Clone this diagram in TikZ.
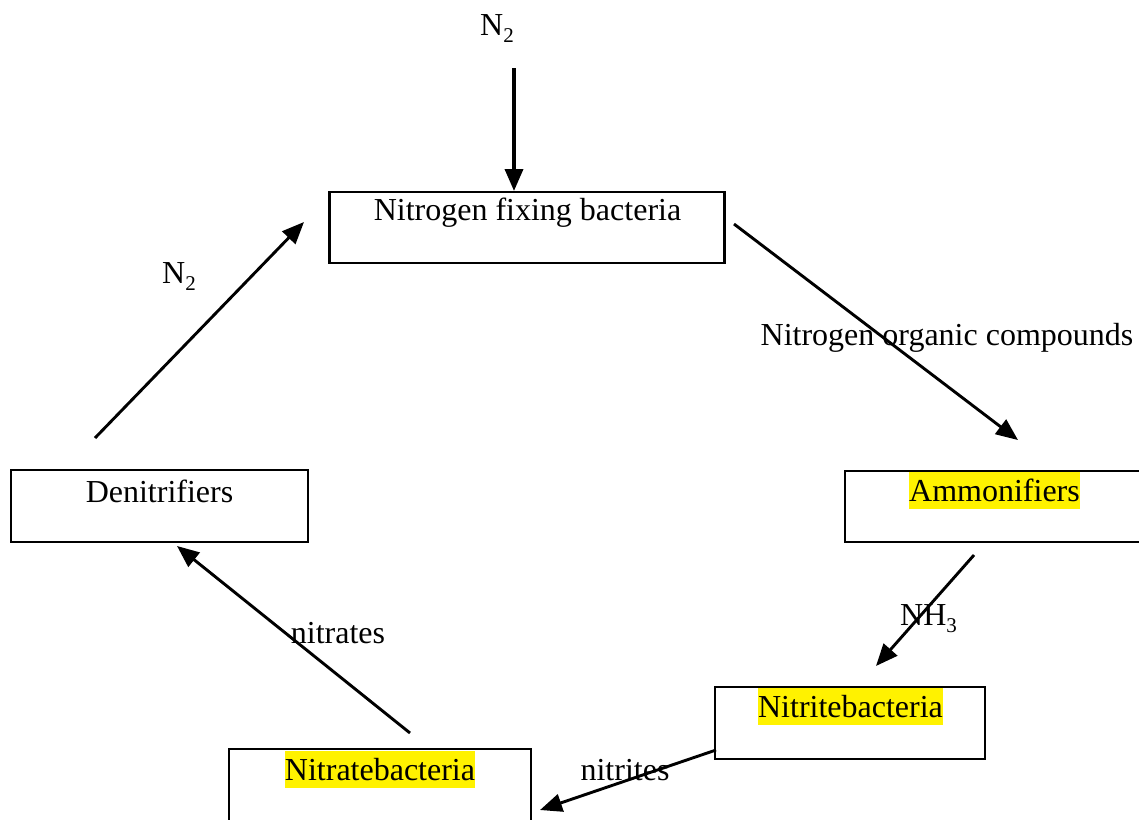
\documentclass[tikz,border=0pt]{standalone}
\usepackage{fontspec}
\setmainfont{Liberation Serif}
\usetikzlibrary{arrows.meta}
\newcommand{\subtwo}[1]{\raisebox{-7pt}{\fontsize{21}{21}\selectfont #1}}
\tikzset{
  box/.style={draw, line width=2.4pt, rectangle, inner sep=0pt},
  lbl/.style={anchor=base, inner sep=0pt, font=\fontsize{32}{38}\selectfont},
  hl/.style={lbl, fill=yellow, text height=29pt, text depth=8pt},
  ar/.style={-{Triangle[length=22pt,width=18pt]}, line width=2.9pt}
}
\begin{document}
\begin{tikzpicture}[x=1pt,y=-1pt]
\useasboundingbox (0,0) rectangle (1139,819);
% boxes
\node[box, minimum width=395pt, minimum height=71pt] (nfb) at (527,227.5) {};
\node[box, minimum width=297pt, minimum height=72pt] (den) at (159.5,506) {};
\node[box, minimum width=300pt, minimum height=71pt] (amm) at (995,506.5) {};
\node[box, minimum width=270pt, minimum height=72pt] (nii) at (850,723) {};
\node[box, minimum width=302pt, minimum height=110pt] (nat) at (380,804) {};
% box texts
\node[lbl] (tnfb) at (527.5,220) {Nitrogen fixing bacteria};
\node[lbl] (tden) at (159.5,502) {Denitrifiers};
\node[hl] (tamm) at (994.5,501) {Ammonifiers};
\node[hl] (tnii) at (850.5,717) {Nitritebacteria};
\node[hl] (tnat) at (380,780) {Nitratebacteria};
% edge labels
\node[lbl] (n2top) at (497,35) {N\subtwo{2}};
\node[lbl] (n2left) at (179,283) {N\subtwo{2}};
\node[lbl] (noc) at (947,345) {Nitrogen organic compounds};
\node[lbl] (nh3) at (928.5,625) {NH\subtwo{3}};
\node[lbl] (nites) at (625,780) {nitrites};
\node[lbl] (nates) at (338,643) {nitrates};
% connector end points
\coordinate (a1) at (514,68);  \coordinate (a2) at (514,191);
\coordinate (b1) at (734,224); \coordinate (b2) at (1018,440);
\coordinate (c1) at (974,555); \coordinate (c2) at (876,666);
\coordinate (d1) at (716,750); \coordinate (d2) at (540,810);
\coordinate (e1) at (410,733); \coordinate (e2) at (177,546);
\coordinate (f1) at (95,438);  \coordinate (f2) at (304,222);
\draw[ar, line width=3.6pt] (a1) -- (a2);
\draw[ar] (b1) -- (b2);
\draw[ar] (c1) -- (c2);
\draw[ar] (d1) -- (d2);
\draw[ar] (e1) -- (e2);
\draw[ar] (f1) -- (f2);
\end{tikzpicture}
\end{document}
